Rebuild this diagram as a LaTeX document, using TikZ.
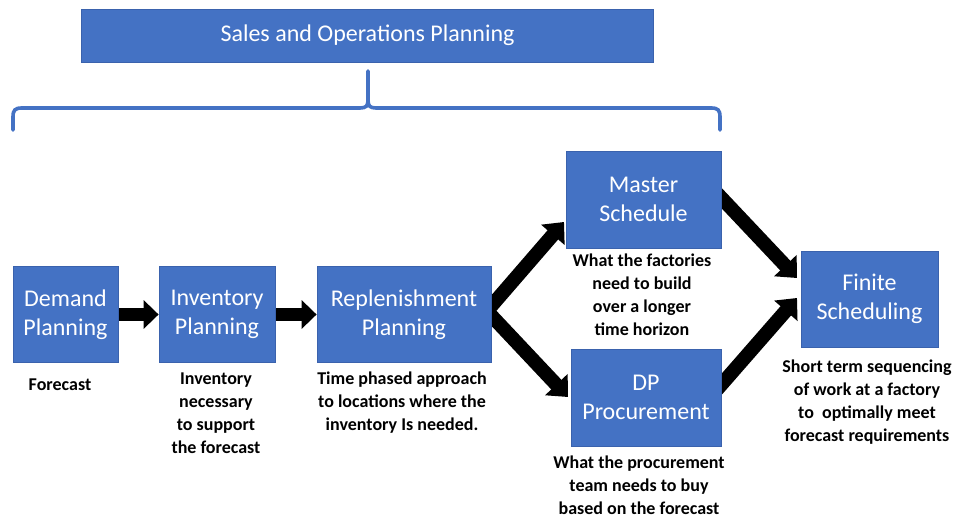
\documentclass[tikz,border=0pt]{standalone}
\usepackage{fontspec}
\setmainfont{Carlito}
\usetikzlibrary{arrows.meta,backgrounds}
\definecolor{boxblue}{HTML}{4472C4}
\definecolor{boxedge}{HTML}{3A62AD}
\tikzset{
  box/.style={fill=boxblue, draw=boxedge, line width=0.8pt, inner sep=0pt,
    text=white, align=center, font=\fontsize{24}{29}\selectfont},
  note/.style={inner sep=0pt, align=center, text=black,
    font=\fontsize{18}{23}\selectfont\bfseries},
  fat/.style={line width=13pt, -{Triangle[length=15pt,width=28pt]}},
  fatd/.style={line width=14pt, -{Triangle[length=17pt,width=30pt]}},
  bracel/.style={draw=boxblue, line width=3.6pt, line cap=round}
}
\begin{document}
\begin{tikzpicture}[x=1pt,y=-1pt]
\useasboundingbox (0,0) rectangle (956,518);

% top box
\node[box, minimum width=572, minimum height=53] (sop) at (367.5,35.5) {Sales and Operations Planning};

% brace
\coordinate (bl) at (13,130);
\coordinate (br) at (720,130);
\coordinate (bt) at (368,71);
\draw[bracel] (bl) -- (13,117) .. controls (13,110) and (15,108) .. (22,108)
  -- (360,108) .. controls (366,108) and (368,106) .. (368,100) -- (bt);
\draw[bracel] (368,100) .. controls (368,106) and (370,108) .. (376,108)
  -- (711,108) .. controls (718,108) and (720,110) .. (720,117) -- (br);

% process boxes
\node[box, minimum width=105, minimum height=96] (dem) at (65.5,314.5) {Demand\\Planning};
\node[box, minimum width=116, minimum height=96] (inv) at (217,314.5) {Inventory\\Planning};
\node[box, minimum width=174, minimum height=96] (rep) at (404,314.5) {Replenishment\\Planning};
\node[box, minimum width=155, minimum height=97] (mas) at (643.5,199.5) {Master\\Schedule};
\node[box, minimum width=150, minimum height=97] (dpp) at (646,397.5) {DP\\Procurement};
\node[box, minimum width=137, minimum height=96] (fin) at (869.5,299) {Finite\\Scheduling};

% notes
\node[note] (n1) at (60,385) {Forecast};
\node[note] (n2) at (216,413.5) {Inventory\\necessary\\to support\\the forecast};
\node[note] (n3) at (402,402.5) {Time phased approach\\to locations where the\\inventory Is needed.};
\node[note] (n4) at (642,295) {What the factories\\need to build\\over a longer\\time horizon};
\node[note] (n5) at (639,485.5) {What the procurement\\team needs to buy\\based on the forecast};
\node[note] (n6) at (867,402) {Short term sequencing\\of work at a factory\\to\ \ optimally meet\\forecast requirements};

% arrows
\begin{scope}[on background layer]
\draw[fat] ([xshift=-4pt]dem.east) -- (inv.west);
\draw[fat] ([xshift=-4pt]inv.east) -- (rep.west);
\coordinate (rs) at (487,311);
\coordinate (mt) at (564,222);
\coordinate (dt) at (568,397);
\draw[fatd] (rs) -- (mt);
\draw[fatd] (rs) -- (dt);
\coordinate (ms) at (713,189);
\coordinate (ft1) at (797,278);
\draw[fatd] (ms) -- (ft1);
\coordinate (ds) at (714,393);
\coordinate (ft2) at (797,298);
\draw[fatd] (ds) -- (ft2);
\end{scope}
\end{tikzpicture}
\end{document}
